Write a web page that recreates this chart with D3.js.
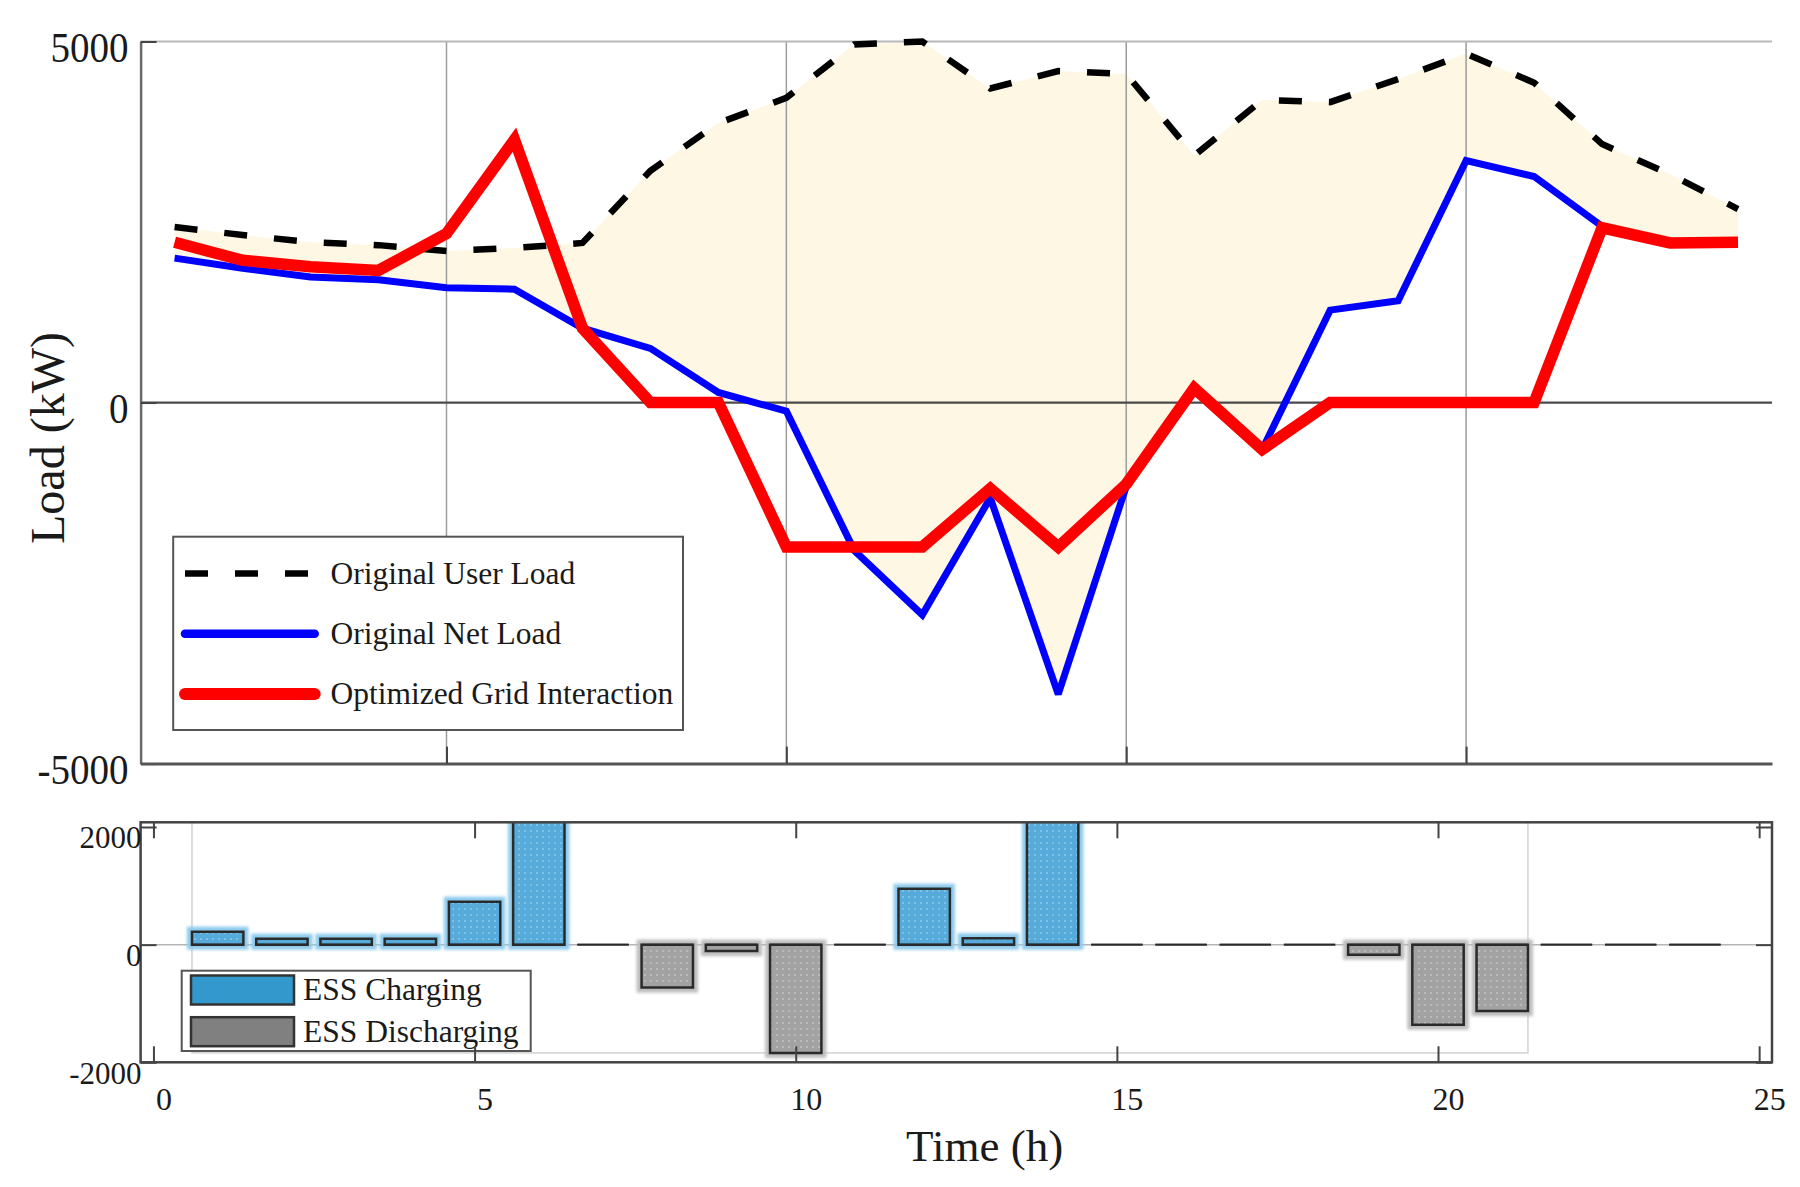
<!DOCTYPE html>
<html><head><meta charset="utf-8">
<script src="https://cdn.jsdelivr.net/npm/d3@7"></script>
<style>
body{margin:0;background:#fff}
svg{display:block}
text{font-family:"Liberation Serif","Times New Roman",serif;fill:#1a1a1a}
</style>
</head><body>
<svg id="chart" width="1800" height="1187"></svg>
<script>
// ---------------- data ----------------
const hours = [1,2,3,4,5,6,7,8,9,10,11,12,13,14,15,16,17,18,19,20,21,22,23,24];
const userLoad = [2430,2320,2220,2180,2100,2140,2210,3210,3870,4220,4960,5000,4350,4590,4550,3420,4190,4160,4480,4830,4430,3580,3160,2680];
const netLoad = [2000,1860,1740,1700,1590,1570,1030,750,140,-120,-2050,-2940,-1320,-4040,-1160,200,-650,1280,1410,3350,3130,2440,2210,2220];
const gridInteraction = [2220,1970,1880,1830,2340,3640,1030,0,0,-2000,-2000,-2000,-1190,-2000,-1130,200,-650,0,0,0,0,2420,2210,2220];
const essCharging = [220,100,100,100,730,2100,0,0,0,0,0,950,110,2100,0,0,0,0,0,0,0,0,0,0];
const essDischarging = [0,0,0,0,0,0,0,-730,-110,-1840,0,0,0,0,0,0,0,0,-170,-1360,-1130,0,0,0];

const loadTicks = [-5000,0,5000];
const gridHours = [5,10,15,20];
const timeTicks = [0,5,10,15,20,25];
const essTicks = [-2000,0,2000];
const seriesNames = ["Original User Load","Original Net Load","Optimized Grid Interaction"];
const essNames = ["ESS Charging","ESS Discharging"];
const yLabel = "Load (kW)";
const xLabel = "Time (h)";

// ---------------- setup ----------------
const svg = d3.select("#chart");
const defs = svg.append("defs");
const plainFmt = d => String(d);

function dotPattern(id, base, dot){
  const p = defs.append("pattern").attr("id",id).attr("patternUnits","userSpaceOnUse")
    .attr("width",6).attr("height",6);
  p.append("rect").attr("width",6).attr("height",6).attr("fill",base);
  p.append("rect").attr("x",2).attr("y",2).attr("width",2).attr("height",2).attr("fill",dot);
}
dotPattern("dotsBlue","#57ABDA","#7EC1E6");
dotPattern("dotsGray","#A2A2A2","#BABABA");
defs.append("filter").attr("id","soft").attr("x","-20%").attr("y","-20%").attr("width","140%").attr("height","140%")
  .append("feGaussianBlur").attr("stdDeviation",1.6);

// ================= TOP PLOT =================
const x1 = d3.scaleLinear().domain([0.5,24.5]).range([140.6,1772]);
const y1 = d3.scaleLinear().domain([-5000,5000]).range([763.6,41.5]);
const topG = svg.append("g");

// fill between user load and net load
const idx = d3.range(hours.length);
topG.append("path")
  .attr("d", d3.area().x(i=>x1(hours[i])).y0(i=>y1(netLoad[i])).y1(i=>y1(userLoad[i]))(idx))
  .attr("fill","#FEF7E4");

// gridlines
topG.selectAll(".vgrid").data(gridHours).enter().append("line")
  .attr("x1",d=>x1(d)).attr("x2",d=>x1(d))
  .attr("y1",y1(5000)).attr("y2",y1(-5000))
  .attr("stroke","#9c9c9c").attr("stroke-width",1.5);
topG.selectAll(".hgrid").data(loadTicks.filter(v=>v>-5000)).enter().append("line")
  .attr("x1",x1(0.5)).attr("x2",x1(24.5))
  .attr("y1",d=>y1(d)).attr("y2",d=>y1(d))
  .attr("stroke",d=>d===0?"#4a4a4a":"#b8b8b8").attr("stroke-width",d=>d===0?2.2:2);

// axes
const axL = topG.append("g").attr("transform",`translate(${x1(0.5)},0)`)
  .call(d3.axisLeft(y1).tickValues(loadTicks).tickSizeInner(-16).tickSizeOuter(0).tickPadding(12).tickFormat(plainFmt));
axL.select(".domain").attr("stroke","#6a6a6a").attr("stroke-width",2.5);
axL.selectAll(".tick line").attr("stroke","#444").attr("stroke-width",2);
axL.selectAll("text").attr("font-size",42).attr("dy","0.47em").attr("fill","#1a1a1a")
  .style("font-family",'"Liberation Serif","Times New Roman",serif');
axL.selectAll("text").each(function(){ const L=this.getComputedTextLength(); d3.select(this).attr("textLength",L*0.93).attr("lengthAdjust","spacingAndGlyphs"); });

const axB = topG.append("g").attr("transform",`translate(0,${y1(-5000)})`)
  .call(d3.axisBottom(x1).tickValues(gridHours).tickSizeInner(-17).tickSizeOuter(0).tickFormat(""));
axB.select(".domain").attr("stroke","#555").attr("stroke-width",3);
axB.selectAll(".tick line").attr("stroke","#444").attr("stroke-width",2);

// lines
const lineGen = arr => d3.line().x(i=>x1(hours[i])).y(i=>y1(arr[i]))(idx);
const styles = [
  {data:userLoad, color:"#000", width:6.5, dash:"23,27", lw:6.5, cap:"butt"},
  {data:netLoad, color:"#0000FF", width:7, dash:null, lw:8.5, cap:"round"},
  {data:gridInteraction, color:"#FF0000", width:11.5, dash:null, lw:12, cap:"round"}
];
styles.forEach(s=>{
  topG.append("path").attr("d",lineGen(s.data)).attr("fill","none")
    .attr("stroke",s.color).attr("stroke-width",s.width)
    .attr("stroke-dasharray",s.dash).attr("stroke-linejoin","miter").attr("stroke-miterlimit",3);
});

// legend (top)
const lg = topG.append("g");
lg.append("rect").attr("x",173.2).attr("y",536.7).attr("width",509.8).attr("height",193.3)
  .attr("fill","#fff").attr("stroke","#555").attr("stroke-width",2);
const rowY = d3.scalePoint().domain(seriesNames).range([573.5,694]);
seriesNames.forEach((n,i)=>{
  const s = styles[i];
  lg.append("line").attr("x1",185).attr("x2",314.7).attr("y1",rowY(n)).attr("y2",rowY(n))
    .attr("stroke",s.color).attr("stroke-width",s.lw).attr("stroke-dasharray",s.dash)
    .attr("stroke-linecap",s.cap);
  lg.append("text").attr("x",330.4).attr("y",rowY(n)+10).attr("font-size",31.5).text(n);
});

// y label
svg.append("text").attr("transform","translate(64,438) rotate(-90)")
  .attr("text-anchor","middle").attr("font-size",48).text(yLabel);

// ================= BOTTOM PLOT =================
const x2 = d3.scaleLinear().domain([-0.2,25.2]).range([140.6,1772]);
const y2 = d3.scaleLinear().domain([-2000,2080]).range([1062.3,822.3]);
const bot = svg.append("g");
defs.append("clipPath").attr("id","botclip").append("rect")
  .attr("x",x2(-0.2)).attr("y",y2(2080)).attr("width",x2(25.2)-x2(-0.2)).attr("height",y2(-2000)-y2(2080));

const bw = 0.4;
const bars = [];
hours.forEach((h,i)=>{
  bars.push({h, v:essCharging[i], k:0});
  bars.push({h, v:essDischarging[i], k:1});
});
const nonzero = bars.filter(d=>d.v!==0);
const hx = d3.extent(nonzero, d=>d.h);
const vmin = d3.min(nonzero, d=>d.v);

const plot = bot.append("g").attr("clip-path","url(#botclip)");
// light bounding box of bar group
plot.append("rect").attr("x",x2(hx[0]-bw)).attr("y",y2(2080))
  .attr("width",x2(hx[1]+bw)-x2(hx[0]-bw)).attr("height",y2(vmin)-y2(2080))
  .attr("fill","none").attr("stroke","#d2d2d2").attr("stroke-width",1.5);
// baseline
plot.append("line").attr("x1",x2(-0.2)).attr("x2",x2(25.2)).attr("y1",y2(0)).attr("y2",y2(0))
  .attr("stroke","#b5b5b5").attr("stroke-width",1.5);
// halos
plot.selectAll(".halo").data(nonzero).enter().append("rect")
  .attr("x",d=>x2(d.h-bw)-5).attr("width",d=>x2(d.h+bw)-x2(d.h-bw)+10)
  .attr("y",d=>Math.min(y2(0),y2(d.v))-5).attr("height",d=>Math.abs(y2(d.v)-y2(0))+10)
  .attr("fill",d=>d.k===0?"#8CCAEC":"#BDBDBD").attr("filter","url(#soft)");
// bars
plot.selectAll(".bar").data(bars).enter().append("path")
  .attr("d",d=>`M${x2(d.h-bw)},${y2(0)}H${x2(d.h+bw)}V${y2(d.v)}H${x2(d.h-bw)}Z`)
  .attr("fill",d=>d.k===0?"url(#dotsBlue)":"url(#dotsGray)")
  .attr("stroke","#2a2a2a").attr("stroke-width",d=>d.v===0?1.8:2.5);

// box + ticks
bot.append("rect").attr("x",x2(-0.2)).attr("y",y2(2080)).attr("width",x2(25.2)-x2(-0.2)).attr("height",y2(-2000)-y2(2080))
  .attr("fill","none").attr("stroke","#444").attr("stroke-width",2.5);
const styleTicks = g => { g.select(".domain").remove(); g.selectAll(".tick line").attr("stroke","#444").attr("stroke-width",2); };
bot.append("g").attr("transform",`translate(0,${y2(2080)})`)
  .call(d3.axisTop(x2).tickValues(timeTicks).tickSize(-16).tickFormat("")).call(styleTicks);
bot.append("g").attr("transform",`translate(${x2(25.2)},0)`)
  .call(d3.axisRight(y2).tickValues(essTicks).tickSize(-16).tickFormat("")).call(styleTicks);

// legend (bottom)
const lg2 = bot.append("g");
lg2.append("rect").attr("x",181.7).attr("y",970.7).attr("width",349).attr("height",80.3)
  .attr("fill","#fff").attr("stroke","#555").attr("stroke-width",2);
const row2 = d3.scalePoint().domain(essNames).range([990,1031.7]);
const swatch = ["#3398CC","#808080"];
essNames.forEach((n,i)=>{
  lg2.append("rect").attr("x",191).attr("y",row2(n)-14.5).attr("width",103).attr("height",29)
    .attr("fill",swatch[i]).attr("stroke","#333").attr("stroke-width",2.5);
  lg2.append("text").attr("x",303).attr("y",row2(n)+10).attr("font-size",31.5).text(n);
});

// bottom axis (ticks + labels) on top of legend
const axB2 = bot.append("g").attr("transform",`translate(0,${y2(-2000)})`)
  .call(d3.axisBottom(x2).tickValues(timeTicks).tickSizeInner(-16).tickSizeOuter(0).tickPadding(25).tickFormat(plainFmt));
axB2.select(".domain").remove();
axB2.selectAll(".tick line").attr("stroke","#444").attr("stroke-width",2);
axB2.selectAll("text").attr("font-size",32).attr("dx",10).attr("fill","#1a1a1a")
  .style("font-family",'"Liberation Serif","Times New Roman",serif');

const axL2 = bot.append("g").attr("transform",`translate(${x2(-0.2)},0)`)
  .call(d3.axisLeft(y2).tickValues(essTicks).tickSizeInner(-16).tickSizeOuter(0).tickPadding(-1).tickFormat(plainFmt));
axL2.select(".domain").remove();
axL2.selectAll(".tick line").attr("stroke","#444").attr("stroke-width",2);
axL2.selectAll("text").attr("font-size",31).attr("dy","0.67em").attr("fill","#1a1a1a")
  .style("font-family",'"Liberation Serif","Times New Roman",serif');

// x label
svg.append("text").attr("x",984.6).attr("y",1161).attr("text-anchor","middle")
  .attr("font-size",45).text(xLabel);
</script>
</body></html>
